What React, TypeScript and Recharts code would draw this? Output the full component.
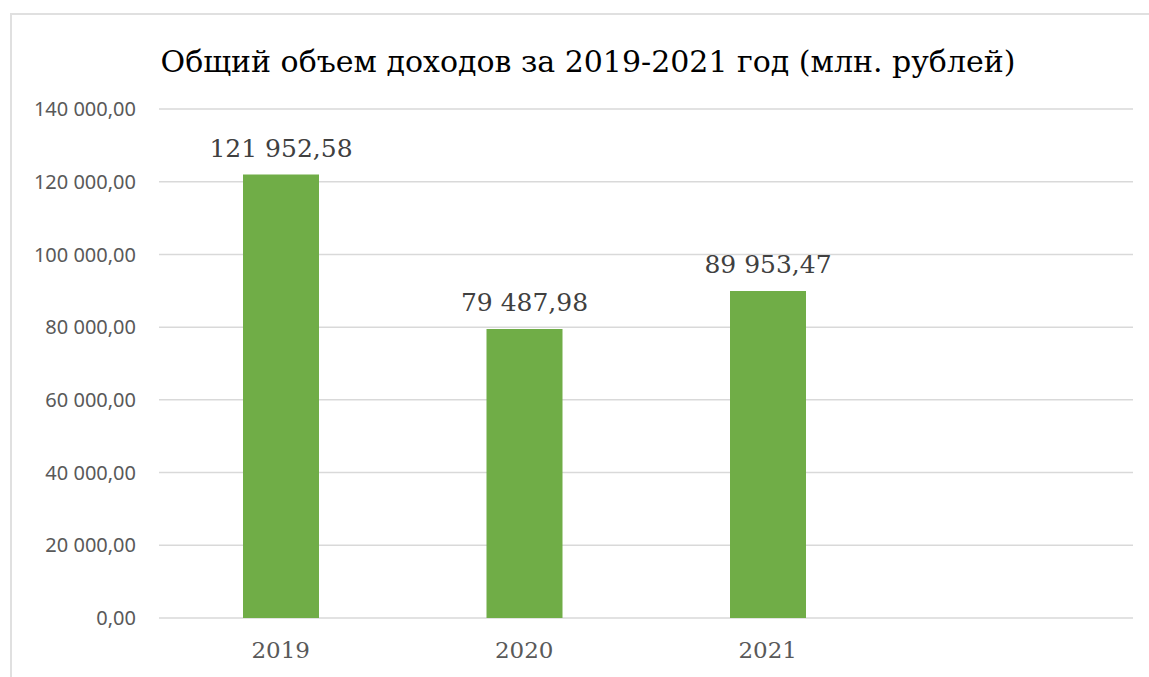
import React from 'react';
import { BarChart, Bar, XAxis, YAxis, CartesianGrid, LabelList } from 'recharts';

const years = ['2019', '2020', '2021', ''];
const incomes: (number | null)[] = [121952.58, 79487.98, 89953.47, null];
const yTicks = [0, 20000, 40000, 60000, 80000, 100000, 120000, 140000];

const data = years.map((year, i) => ({ year, income: incomes[i] }));

const SERIF = '"DejaVu Serif", serif';

// sep: group separator (nbsp for labels so Recharts does not wrap them)
function formatRu(n: number | null | undefined, sep = ' ') {
  if (n === null || n === undefined) return '';
  const [int, frac] = Number(n).toFixed(2).split('.');
  const grouped = int.replace(/\B(?=(\d{3})+(?!\d))/g, sep);
  return `${grouped},${frac}`;
}

export default function App() {
  return (
    <div style={{ position: 'absolute', left: 0, top: 0, width: 1149, height: 677, background: '#fff', overflow: 'hidden' }}>
      <div
        style={{
          position: 'absolute',
          left: 10,
          top: 13,
          width: 1149,
          height: 677,
          borderTop: '2px solid #e0e0e0',
          borderLeft: '2px solid #e0e0e0',
        }}
      />
      <div
        style={{
          position: 'absolute',
          left: 88,
          top: 47,
          width: 1000,
          textAlign: 'center',
          fontFamily: SERIF,
          fontSize: 30,
          lineHeight: '30px',
          color: '#000',
          whiteSpace: 'nowrap',
        }}
      >
        Общий объем доходов за 2019-2021 год (млн. рублей)
      </div>
      <div style={{ position: 'absolute', left: 0, top: 0 }}>
        <BarChart width={1149} height={677} data={data} margin={{ top: 109, right: 16, bottom: 0, left: 0 }}>
          <CartesianGrid vertical={false} stroke="#d9d9d9" strokeWidth={1.5} />
          <XAxis
            dataKey="year"
            height={59}
            axisLine={false}
            tickLine={false}
            tickMargin={18}
            tick={{ fill: '#595959', fontSize: 23, fontFamily: SERIF }}
          />
          <YAxis
            width={159}
            domain={[0, 140000]}
            ticks={yTicks}
            axisLine={false}
            tickLine={false}
            tickMargin={17}
            tickFormatter={(v: number) => formatRu(v)}
            tick={{ fill: '#595959', fontSize: 20, fontFamily: '"Noto Sans", sans-serif' }}
          />
          <Bar dataKey="income" fill="#70AD47" barSize={76} isAnimationActive={false}>
            <LabelList
              dataKey="income"
              position="top"
              offset={18}
              formatter={(v: any) => formatRu(v, '\u00A0')}
              style={{ fill: '#404040', fontSize: 25, fontFamily: SERIF }}
            />
          </Bar>
        </BarChart>
      </div>
    </div>
  );
}
